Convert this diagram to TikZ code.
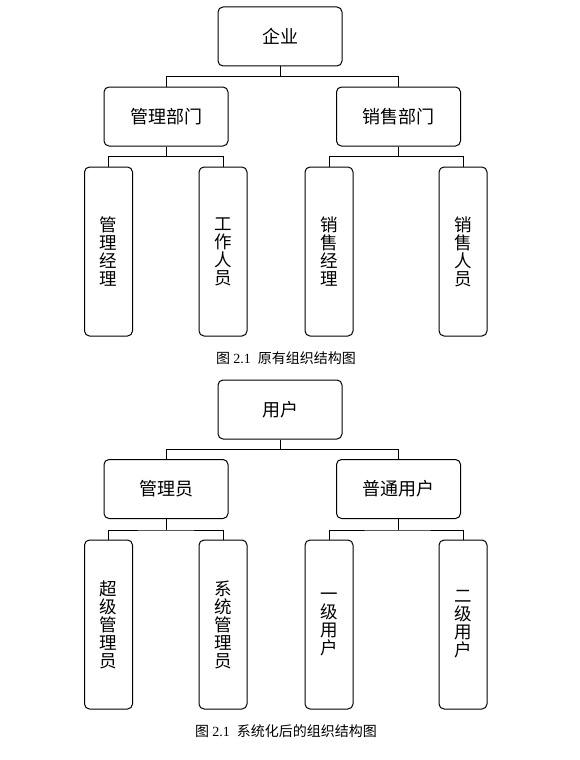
\documentclass[tikz,border=0pt]{standalone}
\usepackage{fontspec}
\setmainfont{Liberation Serif}
\newfontfamily\cjk{Noto Sans CJK SC}
\tikzset{
  dept/.style={draw, line width=1pt, rounded corners=5pt, minimum width=124pt, minimum height=59pt,
    font=\cjk\fontsize{18}{18}\selectfont},
  staff/.style={draw, line width=1pt, rounded corners=5pt, minimum width=48pt, minimum height=169pt,
    align=center, font=\cjk\fontsize{17.5}{18}\selectfont},
  conn/.style={line width=1pt},
  caption/.style={font=\cjk\fontsize{14}{16}\selectfont}
}
\begin{document}
\begin{tikzpicture}[x=1pt,y=-1pt]
  \useasboundingbox (0,0) rectangle (580,760);
  % 原有组织结构
  \node[dept] (qy) at (280,36.5) {企业};
  \node[dept] (glbm) at (166,116.5) {管理部门};
  \node[dept] (xsbm) at (398.5,116.5) {销售部门};
  \node[staff] (gljl) at (108.5,251.5) {管\\理\\经\\理};
  \node[staff] (gzry) at (223,251.5) {工\\作\\人\\员};
  \node[staff] (xsjl) at (329,251.5) {销\\售\\经\\理};
  \node[staff] (xsry) at (463,251.5) {销\\售\\人\\员};
  \draw[conn] (qy.south) -- ++(0,10) coordinate (qyb);
  \draw[conn] (glbm.north) |- (qyb) -| (xsbm.north);
  \draw[conn] (glbm.south) -- ++(0,10) coordinate (glbmb);
  \draw[conn] (gljl.north) |- (glbmb) -| (gzry.north);
  \draw[conn] (xsbm.south) -- ++(0,10) coordinate (xsbmb);
  \draw[conn] (xsjl.north) |- (xsbmb) -| (xsry.north);
  \node[caption] (cap1) at (286,358) {图 {\rmfamily 2.1}\hspace{7pt}原有组织结构图};
  % 系统化后的组织结构
  \node[dept] (yh) at (280,409.5) {用户};
  \node[dept] (gly) at (166,489) {管理员};
  \node[dept] (ptyh) at (398.5,489) {普通用户};
  \node[staff] (cjgly) at (108.5,624.5) {超\\级\\管\\理\\员};
  \node[staff] (xtgly) at (223,624.5) {系\\统\\管\\理\\员};
  \node[staff] (yjyh) at (329,624.5) {一\\级\\用\\户};
  \node[staff] (ejyh) at (463,624.5) {二\\级\\用\\户};
  \draw[conn] (yh.south) -- ++(0,10) coordinate (yhb);
  \draw[conn] (gly.north) |- (yhb) -| (ptyh.north);
  \draw[conn] (gly.south) -- ++(0,11) coordinate (glyb);
  \draw[conn] (cjgly.north) |- (glyb) -| (xtgly.north);
  \draw[conn] (ptyh.south) -- ++(0,11) coordinate (ptyhb);
  \draw[conn] (yjyh.north) |- (ptyhb) -| (ejyh.north);
  \node[caption] (cap2) at (286,731) {图 {\rmfamily 2.1}\hspace{7pt}系统化后的组织结构图};
\end{tikzpicture}
\end{document}
